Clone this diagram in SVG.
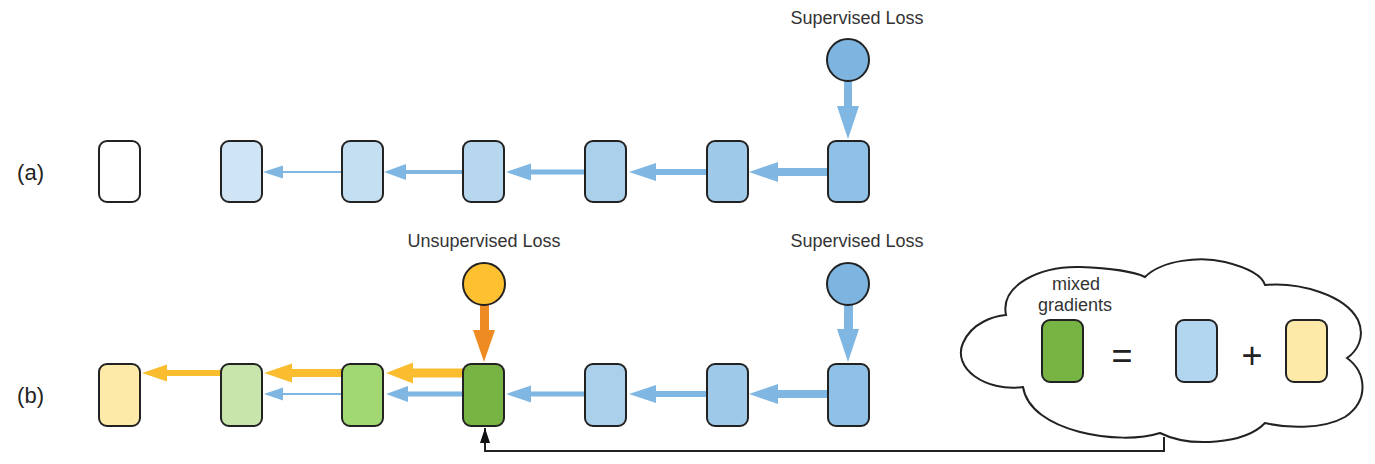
<svg xmlns="http://www.w3.org/2000/svg" width="1375" height="464" viewBox="0 0 1375 464">
  <style>
    .lbl { font-family: "Liberation Sans", Arial, sans-serif; font-size: 18px; fill: #333; text-anchor: middle; }
    .tag { font-family: "Liberation Sans", Arial, sans-serif; font-size: 22px; fill: #222; text-anchor: end; }
    .op { font-family: "Liberation Sans", Arial, sans-serif; font-size: 36px; fill: #222; text-anchor: middle; }
    .box { stroke: #222; stroke-width: 2; }
    .loss { stroke: #222; stroke-width: 2; }
    .blue { fill: #7fb6e2; }
    .yel { fill: #fbbd30; }
    .org { fill: #ee8b22; }
  </style>
  <defs>
    <marker id="tip" markerWidth="15" markerHeight="10" refX="0" refY="0" orient="auto" markerUnits="userSpaceOnUse" viewBox="-15 -5 15 10">
      <path d="M 0 0 L -15 -5 L -15 5 Z" fill="#111"/>
    </marker>
  </defs>
  <rect width="1375" height="464" fill="#fff"/>

  <!-- row labels -->
  <text class="tag" x="44" y="180">(a)</text>
  <text class="tag" x="44" y="403">(b)</text>

  <!-- connectors -->
  <g id="connectors">
    <!-- row (a): supervised gradient flowing down and left -->
    <path class="blue" d="M844 81 H852 V106 H859 L848 139 L837 106 H844 Z"/>
    <path class="blue" d="M342 171 H283 V165.5 L263 172 L283 178.5 V173 H342 Z"/>
    <path class="blue" d="M463 170 H406 V164 L384 172 L406 180 V174 H463 Z"/>
    <path class="blue" d="M585 169.5 H531 V163.5 L506 172 L531 180.5 V174.5 H585 Z"/>
    <path class="blue" d="M707 169 H656 V163 L629 172 L656 181 V175 H707 Z"/>
    <path class="blue" d="M828 168 H778 V162 L749 172 L778 182 V176 H828 Z"/>

    <!-- row (b): supervised gradient -->
    <path class="blue" d="M844 305 H853 V329 H859 L848 362 L837 329 H844 Z"/>
    <path class="blue" d="M342 393 H283 V387.5 L264 394 L283 400.5 V395 H342 Z"/>
    <path class="blue" d="M463 391.5 H408 V386 L386 394 L408 402 V396.5 H463 Z"/>
    <path class="blue" d="M585 391.5 H531 V385.5 L506 394 L531 402.5 V396.5 H585 Z"/>
    <path class="blue" d="M707 391 H656 V385 L629 394 L656 403 V397 H707 Z"/>
    <path class="blue" d="M828 390 H778 V384 L749 394 L778 404 V398 H828 Z"/>

    <!-- row (b): unsupervised gradient -->
    <path class="org" d="M480 305 H489 V330 H495 L484 362 L473 330 H480 Z"/>
    <path class="yel" d="M221 370 H167 V364.5 L142 373 L167 381.5 V376 H221 Z"/>
    <path class="yel" d="M342 369 H292 V363.5 L264 373 L292 382.5 V377 H342 Z"/>
    <path class="yel" d="M463 368.5 H413 V362.5 L386 373 L413 383.5 V377.5 H463 Z"/>

    <!-- mixed gradients fed back into the shared layer -->
    <path d="M1164 437 V451 H485 V428" fill="none" stroke="#222" stroke-width="2" marker-end="url(#tip)"/>
  </g>

  <!-- row (a) -->
  <g id="a-loss">
    <text class="lbl" x="857" y="24">Supervised Loss</text>
    <circle class="loss" cx="848" cy="60" r="21" fill="#7db5e0"/>
  </g>
  <g id="a-n1"><rect class="box" x="99" y="141" width="41" height="61" rx="8" fill="#ffffff"/></g>
  <g id="a-n2"><rect class="box" x="221" y="141" width="41" height="61" rx="8" fill="#cfe4f4"/></g>
  <g id="a-n3"><rect class="box" x="342" y="141" width="41" height="61" rx="8" fill="#c4def2"/></g>
  <g id="a-n4"><rect class="box" x="463" y="141" width="41" height="61" rx="8" fill="#b7d7ef"/></g>
  <g id="a-n5"><rect class="box" x="585" y="141" width="41" height="61" rx="8" fill="#aad0ec"/></g>
  <g id="a-n6"><rect class="box" x="707" y="141" width="41" height="61" rx="8" fill="#9fc9e9"/></g>
  <g id="a-n7"><rect class="box" x="828" y="141" width="41" height="61" rx="8" fill="#8fc0e5"/></g>

  <!-- row (b) -->
  <g id="b-uloss">
    <text class="lbl" x="484" y="247">Unsupervised Loss</text>
    <circle class="loss" cx="484" cy="284" r="21" fill="#fdc02f"/>
  </g>
  <g id="b-sloss">
    <text class="lbl" x="857" y="247">Supervised Loss</text>
    <circle class="loss" cx="848" cy="284" r="21" fill="#7db5e0"/>
  </g>
  <g id="b-n1"><rect class="box" x="99" y="364" width="41" height="62" rx="8" fill="#fde9a8"/></g>
  <g id="b-n2"><rect class="box" x="221" y="364" width="41" height="62" rx="8" fill="#c8e6ab"/></g>
  <g id="b-n3"><rect class="box" x="342" y="364" width="41" height="62" rx="8" fill="#a2d873"/></g>
  <g id="b-n4"><rect class="box" x="463" y="364" width="41" height="62" rx="8" fill="#78b443"/></g>
  <g id="b-n5"><rect class="box" x="585" y="364" width="41" height="62" rx="8" fill="#aad0ec"/></g>
  <g id="b-n6"><rect class="box" x="707" y="364" width="41" height="62" rx="8" fill="#9fc9e9"/></g>
  <g id="b-n7"><rect class="box" x="828" y="364" width="41" height="62" rx="8" fill="#8fc0e5"/></g>

  <!-- legend cloud -->
  <g id="cloud">
    <path d="M1023 387
             C 985 392, 952 368, 963 343
             C 972 322, 995 316, 1006 315
             C 1000 285, 1040 266, 1080 267
             C 1110 268, 1135 272, 1145 277
             C 1162 260, 1200 256, 1225 262
             C 1245 267, 1262 275, 1265 285
             C 1300 282, 1345 295, 1358 320
             C 1366 338, 1356 352, 1347 358
             C 1366 372, 1370 400, 1345 417
             C 1322 430, 1285 428, 1265 423
             C 1245 444, 1190 448, 1160 433
             C 1120 446, 1030 432, 1023 387 Z"
          fill="#fff" stroke="#222" stroke-width="2"/>
    <text class="lbl" x="1076" y="290">mixed</text>
    <text class="lbl" x="1075" y="311">gradients</text>
    <rect class="box" x="1042" y="320" width="41" height="62" rx="8" fill="#78b443"/>
    <text class="op" x="1122" y="368">=</text>
    <rect class="box" x="1176" y="320" width="41" height="62" rx="8" fill="#b3d6f0"/>
    <text class="op" x="1252" y="368">+</text>
    <rect class="box" x="1286" y="320" width="41" height="62" rx="8" fill="#fde9a8"/>
  </g>
</svg>
